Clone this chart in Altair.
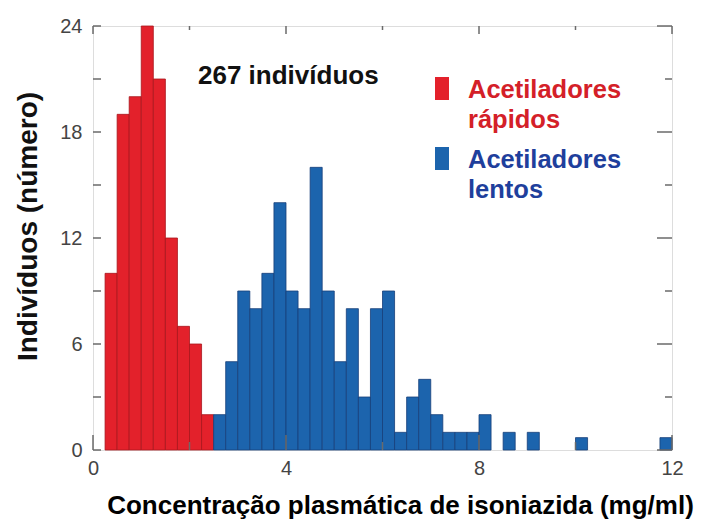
import altair as alt
import pandas as pd

# ---------------- data ----------------
BIN_WIDTH = 0.25
rapid_starts = [0.25, 0.5, 0.75, 1.0, 1.25, 1.5, 1.75, 2.0, 2.25]
rapid_counts = [10, 19, 20, 24, 21, 12, 7, 6, 2]
slow_starts = [2.5, 2.75, 3.0, 3.25, 3.5, 3.75, 4.0, 4.25, 4.5, 4.75, 5.0, 5.25,
               5.5, 5.75, 6.0, 6.25, 6.5, 6.75, 7.0, 7.25, 7.5, 7.75, 8.0, 8.5,
               9.0, 10.0, 11.75]
slow_counts = [2, 5, 9, 8, 10, 14, 9, 8, 16, 9, 5, 8,
               3, 8, 9, 1, 3, 4, 2, 1, 1, 1, 2, 1,
               1, 0.7, 0.7]
groups = ["rápidos", "lentos"]
legend_texts = ["Acetiladores\nrápidos", "Acetiladores\nlentos"]
x_ticks_major = [0, 4, 8, 12]
x_ticks_minor = [2, 6, 10]
y_ticks_major = [0, 6, 12, 18, 24]
y_ticks_minor = [3, 9, 15, 21]
annotation = "267 indivíduos"
x_title = "Concentração plasmática de isoniazida (mg/ml)"
y_title = "Indivíduos (número)"

# ---------------- styling ----------------
W, H = 579, 424
FONT = "Liberation Sans"
RED, RED_EDGE, RED_TXT = "#e3212b", "#a8171d", "#d42028"
BLUE, BLUE_EDGE, BLUE_TXT = "#1c64ad", "#173f7a", "#1f3f9c"
TICK = "#6a6a6a"

rows = []
for s, c in zip(rapid_starts, rapid_counts):
    rows.append({"x": s, "x1": s + BIN_WIDTH, "y": c, "g": groups[0]})
for s, c in zip(slow_starts, slow_counts):
    rows.append({"x": s, "x1": s + BIN_WIDTH, "y": c, "g": groups[1]})
bars_df = pd.DataFrame(rows)

xs = alt.Scale(domain=[0, 12], nice=False, zero=False)
ys = alt.Scale(domain=[0, 24], nice=False)

xa = alt.Axis(values=x_ticks_major, format="d", ticks=False, domain=False,
              grid=False, labelFlush=False, labelFontSize=20,
              labelColor="#444", labelPadding=8, labelFont=FONT,
              titleFont=FONT, titleFontSize=26,
              titleFontWeight="bold", titleColor="black",
              titleX=307, titleY=63, titleBaseline="alphabetic",
              titleAlign="center")
ya = alt.Axis(values=y_ticks_major, format="d", ticks=False, domain=False,
              grid=False, labelFlush=False, labelFontSize=20,
              labelColor="#444", labelPadding=11, labelFont=FONT,
              titleFont=FONT, titleFontSize=28,
              titleFontWeight="bold", titleColor="#111",
              titleX=-57, titleY=200, titleBaseline="alphabetic",
              titleAlign="center", titleAngle=270)

bars = alt.Chart(bars_df).mark_bar(strokeWidth=0.8).encode(
    x=alt.X("x:Q", scale=xs, axis=xa, title=x_title),
    x2="x1:Q",
    y=alt.Y("y:Q", scale=ys, axis=ya, title=y_title),
    y2=alt.datum(0),
    color=alt.Color("g:N", scale=alt.Scale(domain=groups, range=[RED, BLUE]), legend=None),
    stroke=alt.Stroke("g:N", scale=alt.Scale(domain=groups, range=[RED_EDGE, BLUE_EDGE]),
                      legend=None),
)

ymaj = pd.DataFrame({"y": y_ticks_major})
ymin = pd.DataFrame({"y": y_ticks_minor})
xmaj = pd.DataFrame({"x": x_ticks_major})
xmin = pd.DataFrame({"x": x_ticks_minor})


def yrule(df, x0, x1):
    return alt.Chart(df).mark_rule(color=TICK, strokeWidth=1.5).encode(
        y=alt.Y("y:Q", scale=ys, axis=ya, title=y_title),
        x=alt.value(x0), x2=alt.value(x1))


def xrule(df, y0, y1):
    return alt.Chart(df).mark_rule(color=TICK, strokeWidth=1.5).encode(
        x=alt.X("x:Q", scale=xs, axis=xa, title=x_title),
        y=alt.value(y0), y2=alt.value(y1))


ticks = [
    yrule(ymaj, 0, 8), yrule(ymin, 0, 8),
    yrule(ymaj, W - 15, W), yrule(ymin, W - 7, W),
    xrule(xmaj, 0, 8), xrule(xmin, 0, 4),
    xrule(xmaj, H - 15, H), xrule(xmin, H - 8, H),
]

ann = alt.Chart(pd.DataFrame({"t": [annotation]})).mark_text(
    align="left", baseline="alphabetic", font=FONT, fontSize=26, fontWeight="bold",
    color="#111").encode(text="t:N", x=alt.value(105), y=alt.value(58))

leg_df_r = pd.DataFrame({"t": [legend_texts[0]], "g": [groups[0]]})
leg_df_b = pd.DataFrame({"t": [legend_texts[1]], "g": [groups[1]]})

leg_sq_r = alt.Chart(leg_df_r).mark_rect(color=RED).encode(
    x=alt.value(342), x2=alt.value(356), y=alt.value(51), y2=alt.value(74))
leg_sq_b = alt.Chart(leg_df_b).mark_rect(color=BLUE).encode(
    x=alt.value(342), x2=alt.value(356), y=alt.value(121), y2=alt.value(144))
leg_tx_r = alt.Chart(leg_df_r).mark_text(
    align="left", baseline="alphabetic", font=FONT, fontSize=25.5, fontWeight="bold",
    lineBreak="\n", lineHeight=30, color=RED_TXT).encode(
    text="t:N", x=alt.value(375), y=alt.value(72))
leg_tx_b = alt.Chart(leg_df_b).mark_text(
    align="left", baseline="alphabetic", font=FONT, fontSize=25.5, fontWeight="bold",
    lineBreak="\n", lineHeight=30, color=BLUE_TXT).encode(
    text="t:N", x=alt.value(375), y=alt.value(142))

chart = alt.layer(bars, *ticks, ann, leg_sq_r, leg_sq_b, leg_tx_r, leg_tx_b).properties(
    width=W, height=H,
    autosize=alt.AutoSizeParams(type="none"),
    padding={"left": 85, "top": 18, "right": 28, "bottom": 71},
).configure_view(stroke="#888", strokeWidth=1.5).configure(background="white")

chart.save("out.html", embed_options={"renderer": "svg", "actions": False})
